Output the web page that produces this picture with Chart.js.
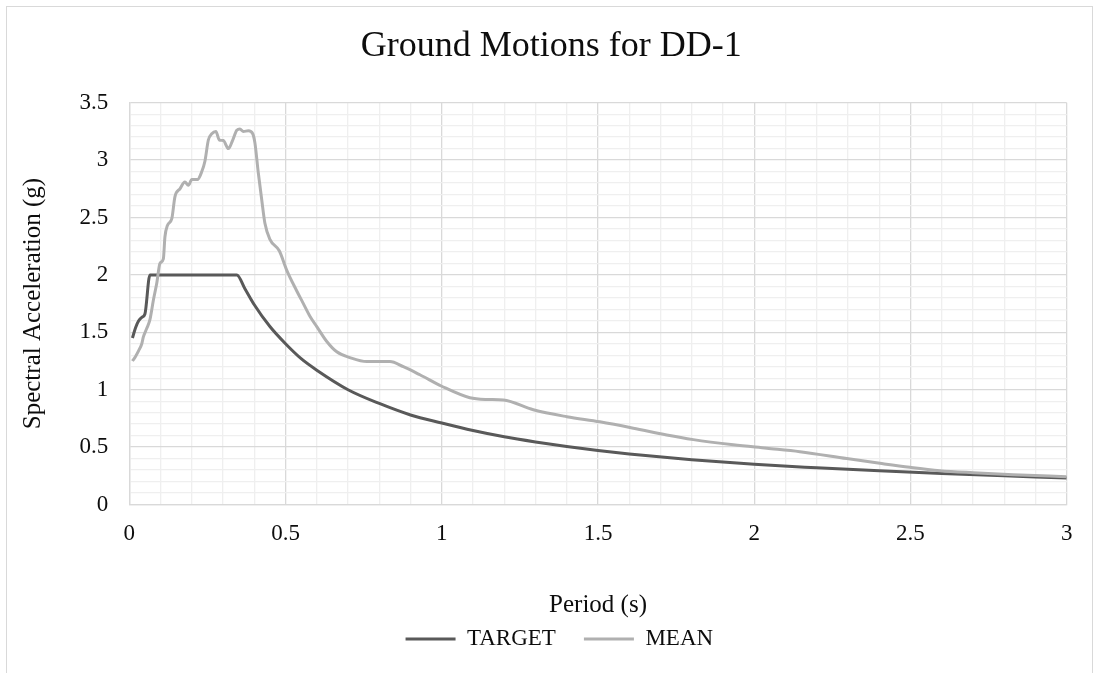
<!DOCTYPE html>
<html lang="en">
<head>
<meta charset="UTF-8">
<title>Ground Motions for DD-1</title>
<script src="https://cdn.jsdelivr.net/npm/chart.js"></script>
<style>
    body {
        margin: 0;
        background: #ffffff;
    }
    .chart-box {
        position: relative;
        width: 1097px;
        height: 673px;
    }
    .frame {
        position: absolute;
        left: 6px;
        top: 6px;
        width: 1085px;
        height: 700px;
        border: 1px solid #d9d9d9;
        pointer-events: none;
    }
</style>
</head>
<body>

<div class="chart-box"><canvas id="spectraChart"></canvas></div>
<div class="frame"></div>

<script>
    // Target spectrum (period in s, Sa in g)
    const targetPeriod = [0.01, 0.02, 0.03, 0.04, 0.05, 0.066, 0.1, 0.2, 0.3, 0.344, 0.37, 0.4,
        0.45, 0.5, 0.55, 0.6, 0.7, 0.8, 0.9, 1.0, 1.1, 1.2, 1.3, 1.4, 1.5, 1.6, 1.8, 2.0,
        2.2, 2.4, 2.6, 2.8, 3.0];
    const targetSa = [1.45, 1.54, 1.60, 1.63, 1.66, 2.0, 2.0, 2.0, 2.0, 2.0, 1.88, 1.74,
        1.55, 1.40, 1.27, 1.17, 1.00, 0.88, 0.78, 0.71, 0.645, 0.59, 0.545, 0.505, 0.47, 0.44, 0.39, 0.35,
        0.32, 0.293, 0.27, 0.25, 0.23];

    // Mean of the scaled ground motions
    const meanPeriod = [0.01, 0.02, 0.03, 0.04, 0.045, 0.056, 0.066, 0.077, 0.088, 0.098,
        0.109, 0.114, 0.122, 0.136, 0.146, 0.162, 0.178, 0.189, 0.2, 0.218,
        0.232, 0.242, 0.253, 0.264, 0.277, 0.288, 0.301, 0.317, 0.331, 0.344,
        0.354, 0.365, 0.381, 0.395, 0.402, 0.413, 0.424, 0.434, 0.45, 0.48,
        0.504, 0.536, 0.557, 0.578, 0.6, 0.632, 0.664, 0.706, 0.76, 0.834,
        0.877, 0.93, 1.0, 1.09, 1.144, 1.197, 1.293, 1.4, 1.506, 1.613,
        1.72, 1.805, 1.933, 2.04, 2.146, 2.296, 2.402, 2.498, 2.594, 2.701,
        2.829, 3.0];
    const meanSa = [1.25, 1.29, 1.34, 1.40, 1.46, 1.535, 1.61, 1.78, 1.93, 2.10,
        2.14, 2.33, 2.43, 2.49, 2.68, 2.75, 2.81, 2.78, 2.83, 2.83,
        2.90, 2.99, 3.175, 3.23, 3.25, 3.175, 3.17, 3.10, 3.175, 3.26,
        3.27, 3.25, 3.255, 3.23, 3.15, 2.885, 2.65, 2.45, 2.31, 2.21,
        2.04, 1.86, 1.75, 1.64, 1.55, 1.42, 1.33, 1.28, 1.245, 1.245,
        1.20, 1.13, 1.03, 0.93, 0.915, 0.91, 0.825, 0.765, 0.72, 0.665,
        0.605, 0.565, 0.52, 0.49, 0.46, 0.40, 0.359, 0.324, 0.295, 0.277,
        0.26, 0.242];

    const toPoints = (xs, ys) => xs.map((x, i) => ({ x: x, y: ys[i] }));

    // gridlines every 0.1, darker ones (and labels) every 0.5
    const isMajor = v => Math.round(v * 10) % 5 === 0;
    const gridColor = ctx => (ctx.tick && isMajor(ctx.tick.value)) ? '#d9d9d9' : '#efefef';
    const tickLabel = v => isMajor(v) ? String(Math.round(v * 10) / 10) : '';

    Chart.defaults.font.family = "'Liberation Serif', 'Times New Roman', serif";
    Chart.defaults.color = '#0d0d0d';

    // move legend and title over the plot area instead of the whole canvas
    const shiftBoxes = {
        id: 'shiftBoxes',
        afterLayout(chart) {
            const lg = chart.legend;
            lg.left += 26; lg.right += 26;
            lg.top -= 12.5; lg.bottom -= 12.5;
            const t = chart.titleBlock;
            t.left += 18; t.right += 18;
        }
    };

    const data = {
        datasets: [{
            label: 'TARGET',
            data: toPoints(targetPeriod, targetSa),
            borderColor: '#595959',
            backgroundColor: '#595959',
            borderWidth: 3,
            pointRadius: 0,
            cubicInterpolationMode: 'monotone',
            order: 1
        }, {
            label: 'MEAN',
            data: toPoints(meanPeriod, meanSa),
            borderColor: '#b0b0b0',
            backgroundColor: '#b0b0b0',
            borderWidth: 3,
            pointRadius: 0,
            cubicInterpolationMode: 'monotone',
            order: 0
        }]
    };

    const config = {
        type: 'line',
        data: data,
        plugins: [shiftBoxes],
        options: {
            responsive: true,
            maintainAspectRatio: false,
            animation: false,
            layout: { padding: { left: 0, right: 30.3, top: 0, bottom: 0 } },
            plugins: {
                title: {
                    display: true,
                    text: 'Ground Motions for DD-1',
                    font: { size: 36, weight: 'normal' },
                    padding: { top: 25.4, bottom: 34.1 }
                },
                legend: {
                    position: 'bottom',
                    onClick: null,
                    labels: {
                        usePointStyle: true,
                        pointStyle: 'line',
                        pointStyleWidth: 50,
                        padding: 28,
                        font: { size: 23 },
                        sort: (a, b) => a.datasetIndex - b.datasetIndex
                    }
                },
                tooltip: { enabled: false }
            },
            scales: {
                x: {
                    type: 'linear',
                    min: 0,
                    max: 3,
                    afterFit(scale) { scale.height = 107.5; },
                    border: { color: '#d9d9d9', width: 1.3 },
                    grid: { drawTicks: false, color: gridColor, lineWidth: 1.3 },
                    ticks: {
                        stepSize: 0.1,
                        autoSkip: false,
                        maxRotation: 0,
                        padding: 15.2,
                        font: { size: 23 },
                        callback: tickLabel
                    },
                    title: {
                        display: true,
                        text: 'Period (s)',
                        font: { size: 25 },
                        padding: { top: 0, bottom: -8 }
                    }
                },
                y: {
                    type: 'linear',
                    min: 0,
                    max: 3.5,
                    afterFit(scale) { scale.width = 129.3; },
                    border: { color: '#d9d9d9', width: 1.3 },
                    grid: { drawTicks: false, color: gridColor, lineWidth: 1.3 },
                    ticks: {
                        stepSize: 0.1,
                        autoSkip: false,
                        padding: 21,
                        font: { size: 23 },
                        callback: tickLabel
                    },
                    title: {
                        display: true,
                        text: 'Spectral Acceleration (g)',
                        font: { size: 25 },
                        padding: { top: 18, bottom: 0 }
                    }
                }
            }
        }
    };

    const spectraChart = new Chart(document.getElementById('spectraChart'), config);
</script>

</body>
</html>
